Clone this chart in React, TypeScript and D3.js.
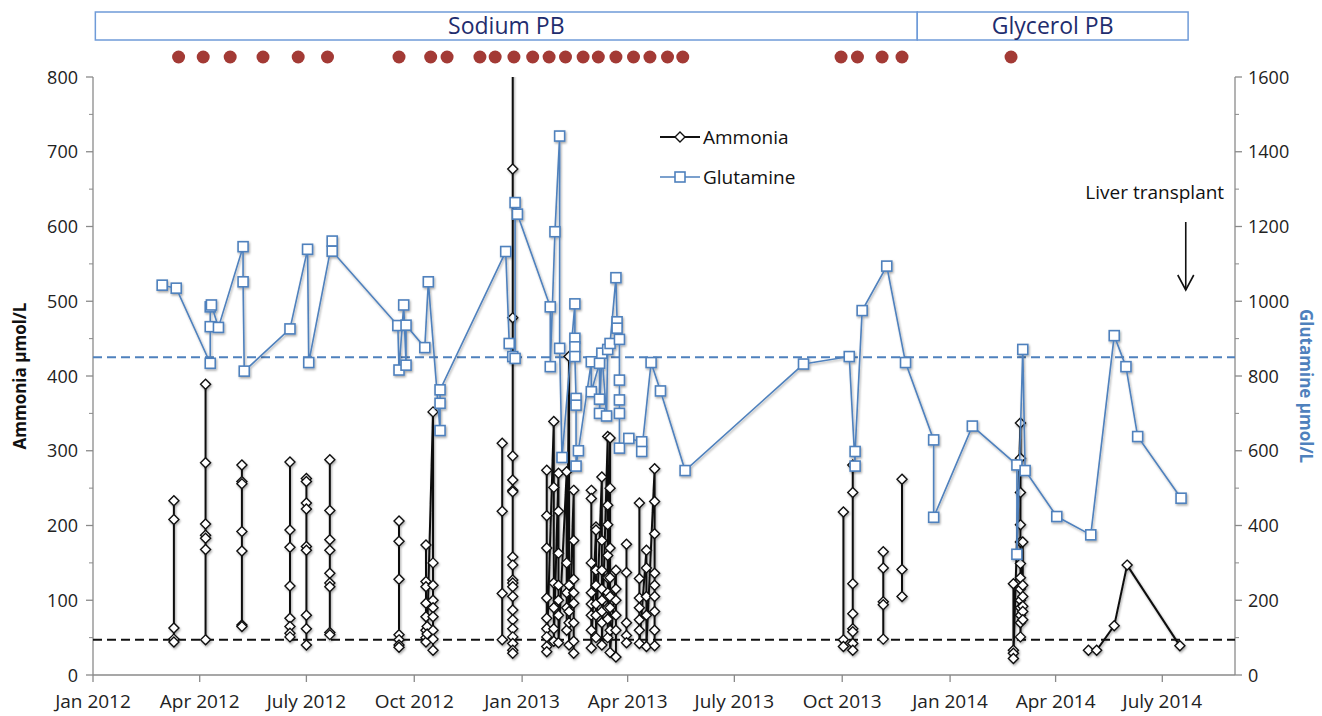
import React from 'react';
import * as d3 from 'd3';

// chart values
const xTickLabels = ['Jan 2012', 'Apr 2012', 'July 2012', 'Oct 2012', 'Jan 2013', 'Apr 2013', 'July 2013', 'Oct 2013', 'Jan 2014', 'Apr 2014', 'July 2014'];
const ammoniaTicks = [0, 100, 200, 300, 400, 500, 600, 700, 800];
const glutamineTicks = [0, 200, 400, 600, 800, 1000, 1200, 1400, 1600];
const ammoniaRef = 47;
const glutamineRef = 850;

const treatments: [string, string, string][] = [
  ['Sodium PB', '2012-01-03', '2013-12-04'],
  ['Glycerol PB', '2013-12-04', '2014-07-23'],
];

const admissions = [
  '2012-03-14', '2012-04-04', '2012-04-27', '2012-05-25', '2012-06-24', '2012-07-19',
  '2012-09-18', '2012-10-15', '2012-10-29', '2012-11-26', '2012-12-09', '2012-12-25',
  '2013-01-10', '2013-01-24', '2013-02-07', '2013-02-22', '2013-03-07', '2013-03-22',
  '2013-04-06', '2013-04-20', '2013-05-05', '2013-05-18', '2013-09-30', '2013-10-14',
  '2013-11-04', '2013-11-21', '2014-02-22',
];

const transplantDate = '2014-07-21';

// ammonia, one list per hospital stay: [day, readings in order]
const ammonia: [string, number[]][][] = [
  [['2012-03-10', [233, 208, 63, 48, 44]]],
  [['2012-04-06', [389, 284, 202, 187, 183, 168, 47]]],
  [['2012-05-07', [281, 259, 256, 192, 166, 67, 65]]],
  [['2012-06-17', [285, 194, 171, 119, 76, 65, 56, 51]]],
  [['2012-07-01', [263, 259, 230, 222, 172, 167, 80, 62, 40]]],
  [['2012-07-21', [288, 220, 181, 167, 136, 123, 118, 57, 54]]],
  [['2012-09-18', [206, 179, 128, 54, 47, 40, 37]]],
  [['2012-10-11', [174, 125, 118, 96, 78, 60, 50, 44]], ['2012-10-12', [65, 55]], ['2012-10-17', [352, 150, 120, 100, 90, 78, 60, 48, 33]]],
  [['2012-12-15', [310, 219, 109, 47]]],
  [['2012-12-24', [950, 677, 478, 293, 261, 247, 245, 158, 147, 127, 123, 118, 105, 87, 74, 62, 51, 42, 33, 29]]],
  [
    ['2013-01-22', [274, 213, 170, 103, 76, 62, 51, 38, 31]],
    ['2013-01-28', [339, 251, 123, 90, 62, 45]],
    ['2013-02-01', [270, 219, 163, 120, 100, 80, 43]],
    ['2013-02-08', [272, 150, 110, 90, 60]],
    ['2013-02-10', [426, 120, 85, 70, 40]],
    ['2013-02-14', [247, 180, 128, 110, 96, 70, 45, 29]],
  ],
  [
    ['2013-03-01', [247, 236, 150, 110, 95, 80, 60, 36]],
    ['2013-03-05', [198, 194, 140, 120, 95, 80, 50]],
    ['2013-03-10', [265, 180, 140, 115, 100, 85, 70, 40]],
    ['2013-03-15', [319, 227, 201, 160, 130, 110, 90, 75, 50]],
    ['2013-03-17', [317, 250, 170, 130, 105, 90, 60, 30]],
    ['2013-03-22', [140, 115, 100, 80, 60, 24]],
  ],
  [['2013-03-31', [175, 137, 70, 53, 43]]],
  [
    ['2013-04-11', [230, 129, 103, 90, 74, 60, 42]],
    ['2013-04-17', [167, 143, 105, 80, 38]],
    ['2013-04-24', [276, 232, 189, 136, 120, 105, 85, 60, 39]],
  ],
  [['2013-10-02', [218, 47, 38]]],
  [['2013-10-10', [281, 244, 122, 82, 62, 58, 42, 33]]],
  [['2013-11-05', [165, 143, 98, 94, 48]]],
  [['2013-11-21', [262, 141, 105]]],
  [
    ['2014-02-24', [122, 33, 29, 22]],
    ['2014-03-02', [337, 290, 244, 201, 178, 149, 130, 115, 100, 90, 80, 70, 51]],
    ['2014-03-04', [178, 120, 105, 92, 85, 74]],
  ],
  [['2014-04-29', [33]], ['2014-05-06', [33]], ['2014-05-21', [66]], ['2014-06-01', [147]], ['2014-07-16', [39]]],
];

const glutamine: [string, number][] = [
  ['2012-02-29', 1043], ['2012-03-12', 1035], ['2012-04-10', 834], ['2012-04-10', 932], ['2012-04-10', 985],
  ['2012-04-11', 990], ['2012-04-17', 930], ['2012-05-08', 1146], ['2012-05-08', 1052], ['2012-05-09', 813],
  ['2012-06-17', 926], ['2012-07-02', 1139], ['2012-07-03', 836], ['2012-07-23', 1161], ['2012-07-23', 1134],
  ['2012-09-17', 935], ['2012-09-18', 816], ['2012-09-22', 990], ['2012-09-24', 829], ['2012-09-24', 936],
  ['2012-10-10', 876], ['2012-10-13', 1052], ['2012-10-23', 654], ['2012-10-23', 727], ['2012-10-23', 763],
  ['2012-12-18', 1133], ['2012-12-21', 887], ['2012-12-24', 852], ['2012-12-26', 847], ['2012-12-26', 1264],
  ['2012-12-28', 1233], ['2013-01-25', 985], ['2013-01-25', 825], ['2013-01-29', 1186], ['2013-02-02', 1442],
  ['2013-02-02', 874], ['2013-02-04', 582], ['2013-02-15', 993], ['2013-02-15', 901], ['2013-02-15', 878],
  ['2013-02-15', 852], ['2013-02-16', 740], ['2013-02-16', 722], ['2013-02-16', 559], ['2013-02-18', 600],
  ['2013-03-01', 838], ['2013-03-01', 758], ['2013-03-08', 834], ['2013-03-08', 738], ['2013-03-08', 700],
  ['2013-03-10', 861], ['2013-03-14', 693], ['2013-03-15', 871], ['2013-03-17', 887], ['2013-03-22', 1063],
  ['2013-03-23', 945], ['2013-03-23', 928], ['2013-03-25', 898], ['2013-03-25', 789], ['2013-03-25', 736],
  ['2013-03-25', 700], ['2013-03-25', 607], ['2013-04-02', 633], ['2013-04-13', 624], ['2013-04-13', 598],
  ['2013-04-21', 836], ['2013-04-29', 760], ['2013-05-20', 547], ['2013-08-29', 832], ['2013-10-07', 852],
  ['2013-10-12', 559], ['2013-10-12', 598], ['2013-10-18', 975], ['2013-11-08', 1094], ['2013-11-24', 836],
  ['2013-12-18', 629], ['2013-12-18', 422], ['2014-01-20', 666], ['2014-02-27', 562], ['2014-02-27', 323],
  ['2014-03-04', 871], ['2014-03-06', 547], ['2014-04-02', 424], ['2014-05-01', 375], ['2014-05-21', 908],
  ['2014-05-31', 825], ['2014-06-10', 638], ['2014-07-17', 473],
];

const parse = d3.timeParse('%Y-%m-%d');
const font = '"Open Sans", "Noto Sans", sans-serif';
const axisColor = '#8a8a8a';
const blue = '#4f81bd';

export default function App() {
  const width = 1322;
  const height = 716;
  const left = 93, right = 1235, top = 77, bottom = 675;

  const x = d3.scaleTime()
    .domain([parse('2012-01-01')!, parse('2014-09-01')!])
    .range([left, right]);
  const yA = d3.scaleLinear().domain([0, 800]).range([bottom, top]);
  const yG = d3.scaleLinear().domain([0, 1600]).range([bottom, top]);

  const xTicks = d3.timeMonth.every(3)!.range(parse('2012-01-01')!, parse('2014-08-01')!);

  const stays = ammonia.map((stay) =>
    stay.flatMap(([day, vals]) => vals.map((v) => [parse(day)!, v] as [Date, number])));
  const glut = glutamine.map(([day, v]) => [parse(day)!, v] as [Date, number]);

  const lineA = d3.line<[Date, number]>().x((d) => x(d[0])).y((d) => yA(d[1]));
  const lineG = d3.line<[Date, number]>().x((d) => x(d[0])).y((d) => yG(d[1]));

  const diamond = (cx: number, cy: number, r = 5) =>
    `M${cx},${cy - r}L${cx + r},${cy}L${cx},${cy + r}L${cx - r},${cy}Z`;

  const minorA = d3.range(50, 800, 100);
  const minorG = d3.range(100, 1600, 200);
  const tx = x(parse(transplantDate)!);

  return (
    <svg width={width} height={height} style={{ position: 'absolute', left: 0, top: 0, background: '#fff' }}
      fontFamily={font}>
      <defs>
        <clipPath id="plot">
          <rect x={left} y={top} width={right - left} height={bottom - top} />
        </clipPath>
        <filter id="shadow" x="-20%" y="-20%" width="140%" height="140%">
          <feDropShadow dx="1" dy="1.5" stdDeviation="1.2" floodColor="#000" floodOpacity="0.35" />
        </filter>
      </defs>

      {/* treatment bar */}
      {treatments.map(([label, s, e]) => {
        const x0 = x(parse(s)!), x1 = x(parse(e)!);
        return (
          <g key={label}>
            <rect x={x0} y={12} width={x1 - x0} height={28} fill="none" stroke="#6f9bd8" strokeWidth={1.5} />
            <text x={(x0 + x1) / 2} y={34} textAnchor="middle" fontSize={23} fill="#1f2d6e">{label}</text>
          </g>
        );
      })}
      {admissions.map((d, i) => (
        <circle key={i} cx={x(parse(d)!)} cy={57} r={6.5} fill="#a33a35" />
      ))}

      {/* axes */}
      <line x1={left} x2={left} y1={top} y2={bottom} stroke={axisColor} strokeWidth={1.3} />
      <line x1={right} x2={right} y1={top} y2={bottom} stroke={axisColor} strokeWidth={1.3} />
      <line x1={left} x2={right} y1={bottom} y2={bottom} stroke={axisColor} strokeWidth={1.3} />
      {ammoniaTicks.map((t) => (
        <g key={'a' + t}>
          <line x1={left - 7} x2={left} y1={yA(t)} y2={yA(t)} stroke={axisColor} strokeWidth={1.3} />
          <text x={left - 15} y={yA(t) + 6.5} textAnchor="end" fontSize={18} fill="#222">{t}</text>
        </g>
      ))}
      {minorA.map((t) => (
        <line key={'am' + t} x1={left - 4} x2={left} y1={yA(t)} y2={yA(t)} stroke={axisColor} strokeWidth={1} />
      ))}
      {glutamineTicks.map((t) => (
        <g key={'g' + t}>
          <line x1={right} x2={right + 7} y1={yG(t)} y2={yG(t)} stroke={axisColor} strokeWidth={1.3} />
          <text x={right + 13} y={yG(t) + 6.5} textAnchor="start" fontSize={18} fill="#222">{t}</text>
        </g>
      ))}
      {minorG.map((t) => (
        <line key={'gm' + t} x1={right} x2={right + 4} y1={yG(t)} y2={yG(t)} stroke={axisColor} strokeWidth={1} />
      ))}
      {xTicks.map((d, i) => (
        <g key={'x' + i}>
          <line x1={x(d)} x2={x(d)} y1={bottom} y2={bottom + 7} stroke={axisColor} strokeWidth={1.3} />
          <text x={x(d)} y={bottom + 33} textAnchor="middle" fontSize={19} fill="#222">{xTickLabels[i]}</text>
        </g>
      ))}

      <text transform={`translate(26,${(top + bottom) / 2}) rotate(-90)`} textAnchor="middle" fontSize={17}
        fontWeight="bold" fill="#111">Ammonia μmol/L</text>
      <text transform={`translate(1300,${(top + bottom) / 2 + 10}) rotate(90)`} textAnchor="middle" fontSize={17}
        fontWeight="bold" fill={blue}>Glutamine μmol/L</text>

      {/* reference levels */}
      <line x1={left} x2={right} y1={yG(glutamineRef)} y2={yG(glutamineRef)} stroke={blue} strokeWidth={2}
        strokeDasharray="9,5" />
      <line x1={left} x2={right} y1={yA(ammoniaRef)} y2={yA(ammoniaRef)} stroke="#111" strokeWidth={2}
        strokeDasharray="9,5" />

      <g clipPath="url(#plot)">
        <g filter="url(#shadow)">
          {stays.map((s, i) => (
            <path key={'s' + i} d={lineA(s) ?? ''} fill="none" stroke="#111" strokeWidth={2} />
          ))}
          {stays.flat().map((d, i) => (
            <path key={'d' + i} d={diamond(x(d[0]), yA(d[1]))} fill="#fff" stroke="#111" strokeWidth={1.4} />
          ))}
        </g>
        <g filter="url(#shadow)">
          <path d={lineG(glut) ?? ''} fill="none" stroke={blue} strokeWidth={1.6} />
          {glut.map((d, i) => (
            <rect key={'q' + i} x={x(d[0]) - 5} y={yG(d[1]) - 5} width={10} height={10} fill="#fff"
              stroke={blue} strokeWidth={1.6} />
          ))}
        </g>
      </g>

      {/* legend */}
      <g>
        <line x1={660} x2={700} y1={137} y2={137} stroke="#111" strokeWidth={2} />
        <path d={diamond(680, 137)} fill="#fff" stroke="#111" strokeWidth={1.4} />
        <text x={703} y={144} fontSize={19} fill="#111">Ammonia</text>
        <line x1={660} x2={700} y1={177} y2={177} stroke={blue} strokeWidth={1.6} />
        <rect x={675} y={172} width={10} height={10} fill="#fff" stroke={blue} strokeWidth={1.6} />
        <text x={703} y={184} fontSize={19} fill="#111">Glutamine</text>
      </g>

      {/* transplant marker */}
      <text x={tx - 31} y={199} textAnchor="middle" fontSize={19} fill="#111">Liver transplant</text>
      <line x1={tx} x2={tx} y1={222} y2={290} stroke="#111" strokeWidth={1.6} />
      <path d={`M${tx - 8},${275}L${tx},${290}L${tx + 8},${275}`} fill="none" stroke="#111" strokeWidth={1.6} />
    </svg>
  );
}
